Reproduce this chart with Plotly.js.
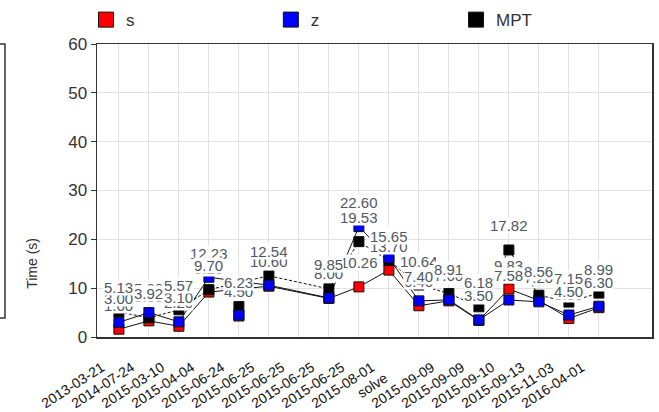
<!DOCTYPE html>
<html>
<head>
<meta charset="utf-8">
<script src="https://cdn.plot.ly/plotly-3.0.1.min.js"></script>
<style>html,body{margin:0;padding:0;background:#fff;}#chart{width:659px;height:412px;}</style>
</head>
<body>
<div id="chart"></div>
<script>
// ---- data ----
const categories = ['2013-03-21','2014-07-24','2015-03-10','2015-04-04','2015-06-24','2015-06-25','2015-06-25','2015-06-25','2015-06-25','2015-08-01','solve','2015-09-09','2015-09-09','2015-09-10','2015-09-13','2015-11-03','2016-04-01'];
const sValues   = [1.6, 3.3, 2.2, 9.2, 4.3, 10.4, null, 7.9, 10.26, 13.7, 6.4, 7.4, 3.4, 9.83, 7.5, 3.8, 6.0];
const zValues   = [3.0, 5.0, 3.10, 12.23, 4.5, 10.6, null, 8.0, 22.60, 16.2, 7.4, 7.6, 3.5, 7.58, 7.2, 4.5, 6.3];
const mptValues = [5.13, 3.92, 5.57, 9.70, 6.23, 12.54, null, 9.85, 19.53, 15.65, 10.64, 8.91, 6.18, 17.82, 8.56, 7.15, 8.99];
const unlinked  = [4];            // point not joined by the series lines
const yTicks    = [0, 10, 20, 30, 40, 50, 60];
const yTitle    = 'Time (s)';

// ---- build ----
const idx = categories.map((c, i) => i);
const linked = arr => arr.map((v, i) => unlinked.includes(i) ? null : v);

const series = [
  {name: 's',   values: sValues,   color: '#ff0000', dash: 'solid',   legend: 'legend',  lx: 0.1305},
  {name: 'z',   values: zValues,   color: '#0000ff', dash: 'solid',   legend: 'legend2', lx: 0.411},
  {name: 'MPT', values: mptValues, color: '#000000', dash: '3px,2px', legend: 'legend3', lx: 0.692}
];

const traces = [];
series.forEach(s => {
  traces.push({x: idx, y: linked(s.values), type: 'scatter', mode: 'lines', connectgaps: true,
    line: {color: '#111', width: 1, dash: s.dash}, showlegend: false, hoverinfo: 'skip'});
});
// marker draw order: s, MPT, z
[series[0], series[2], series[1]].forEach(s => {
  traces.push({x: idx, y: s.values, type: 'scatter', mode: 'markers',
    marker: {symbol: 'square', size: 10, color: s.color, line: {color: '#111', width: 1}},
    showlegend: false});
});
// legend entries (one legend per entry so each can sit where the reference has it)
series.forEach(s => {
  traces.push({x: [null], y: [null], type: 'scatter', mode: 'markers', name: s.name, legend: s.legend,
    marker: {symbol: 'square', size: 15, color: s.color, line: {color: '#111', width: 1}}});
});

const annotations = [];
categories.forEach((c, i) => {
  annotations.push({x: i, y: 0, xref: 'x', yref: 'paper', text: c, showarrow: false,
    xanchor: 'center', yanchor: 'middle', textangle: -33, xshift: -46, yshift: -48,
    font: {family: 'Liberation Sans, Arial, sans-serif', size: 14, color: '#111'}});
});
annotations.push({x: -0.117, y: 0.25, xref: 'paper', yref: 'paper', text: yTitle, showarrow: false,
  textangle: -90, xanchor: 'center', yanchor: 'middle',
  font: {family: 'Liberation Sans, Arial, sans-serif', size: 14, color: '#333'}});
series.forEach(s => {
  s.values.forEach((v, i) => {
    if (v === null) return;
    annotations.push({x: i, y: v, xref: 'x', yref: 'y', text: v.toFixed(2), showarrow: false,
      xanchor: 'center', yanchor: 'middle', yshift: 24, bgcolor: '#ffffff', borderpad: 0, height: 15,
      font: {family: 'Liberation Sans, Arial, sans-serif', size: 15, color: '#505860'}});
  });
});

const legendBase = {orientation: 'h', y: 0.995, xref: 'container', yref: 'container',
  xanchor: 'left', yanchor: 'top', itemsizing: 'trace', bgcolor: 'rgba(0,0,0,0)',
  font: {family: 'Liberation Sans, Arial, sans-serif', size: 17, color: '#333'}};

const layout = {
  width: 659, height: 412,
  margin: {l: 97, r: 7, t: 44, b: 75},
  paper_bgcolor: '#fff', plot_bgcolor: '#fff',
  showlegend: true,
  legend:  Object.assign({}, legendBase, {x: series[0].lx}),
  legend2: Object.assign({}, legendBase, {x: series[1].lx}),
  legend3: Object.assign({}, legendBase, {x: series[2].lx}),
  xaxis: {range: [-0.73, 17.77], tickvals: idx, showticklabels: false, ticks: '',
    showgrid: true, gridcolor: '#e2e2e2', gridwidth: 1, zeroline: false,
    showline: true, mirror: true, linecolor: '#333', linewidth: 1.5},
  yaxis: {range: [0, 60], tickvals: yTicks, ticks: 'outside', ticklen: 5, tickcolor: '#333', tickwidth: 1,
    showgrid: true, gridcolor: '#e2e2e2', gridwidth: 1, zeroline: false,
    showline: true, mirror: true, linecolor: '#333', linewidth: 1.5,
    tickfont: {family: 'Liberation Sans, Arial, sans-serif', size: 17, color: '#333'}},
  annotations: annotations,
  shapes: [
    {type: 'rect', xref: 'paper', yref: 'paper', x0: -0.3, x1: -0.1658, y0: 0.065, y1: 1.0,
     line: {color: '#333', width: 1.5}, fillcolor: 'rgba(0,0,0,0)'}
  ]
};

Plotly.newPlot('chart', traces, layout, {staticPlot: true, displayModeBar: false});
</script>
</body>
</html>
